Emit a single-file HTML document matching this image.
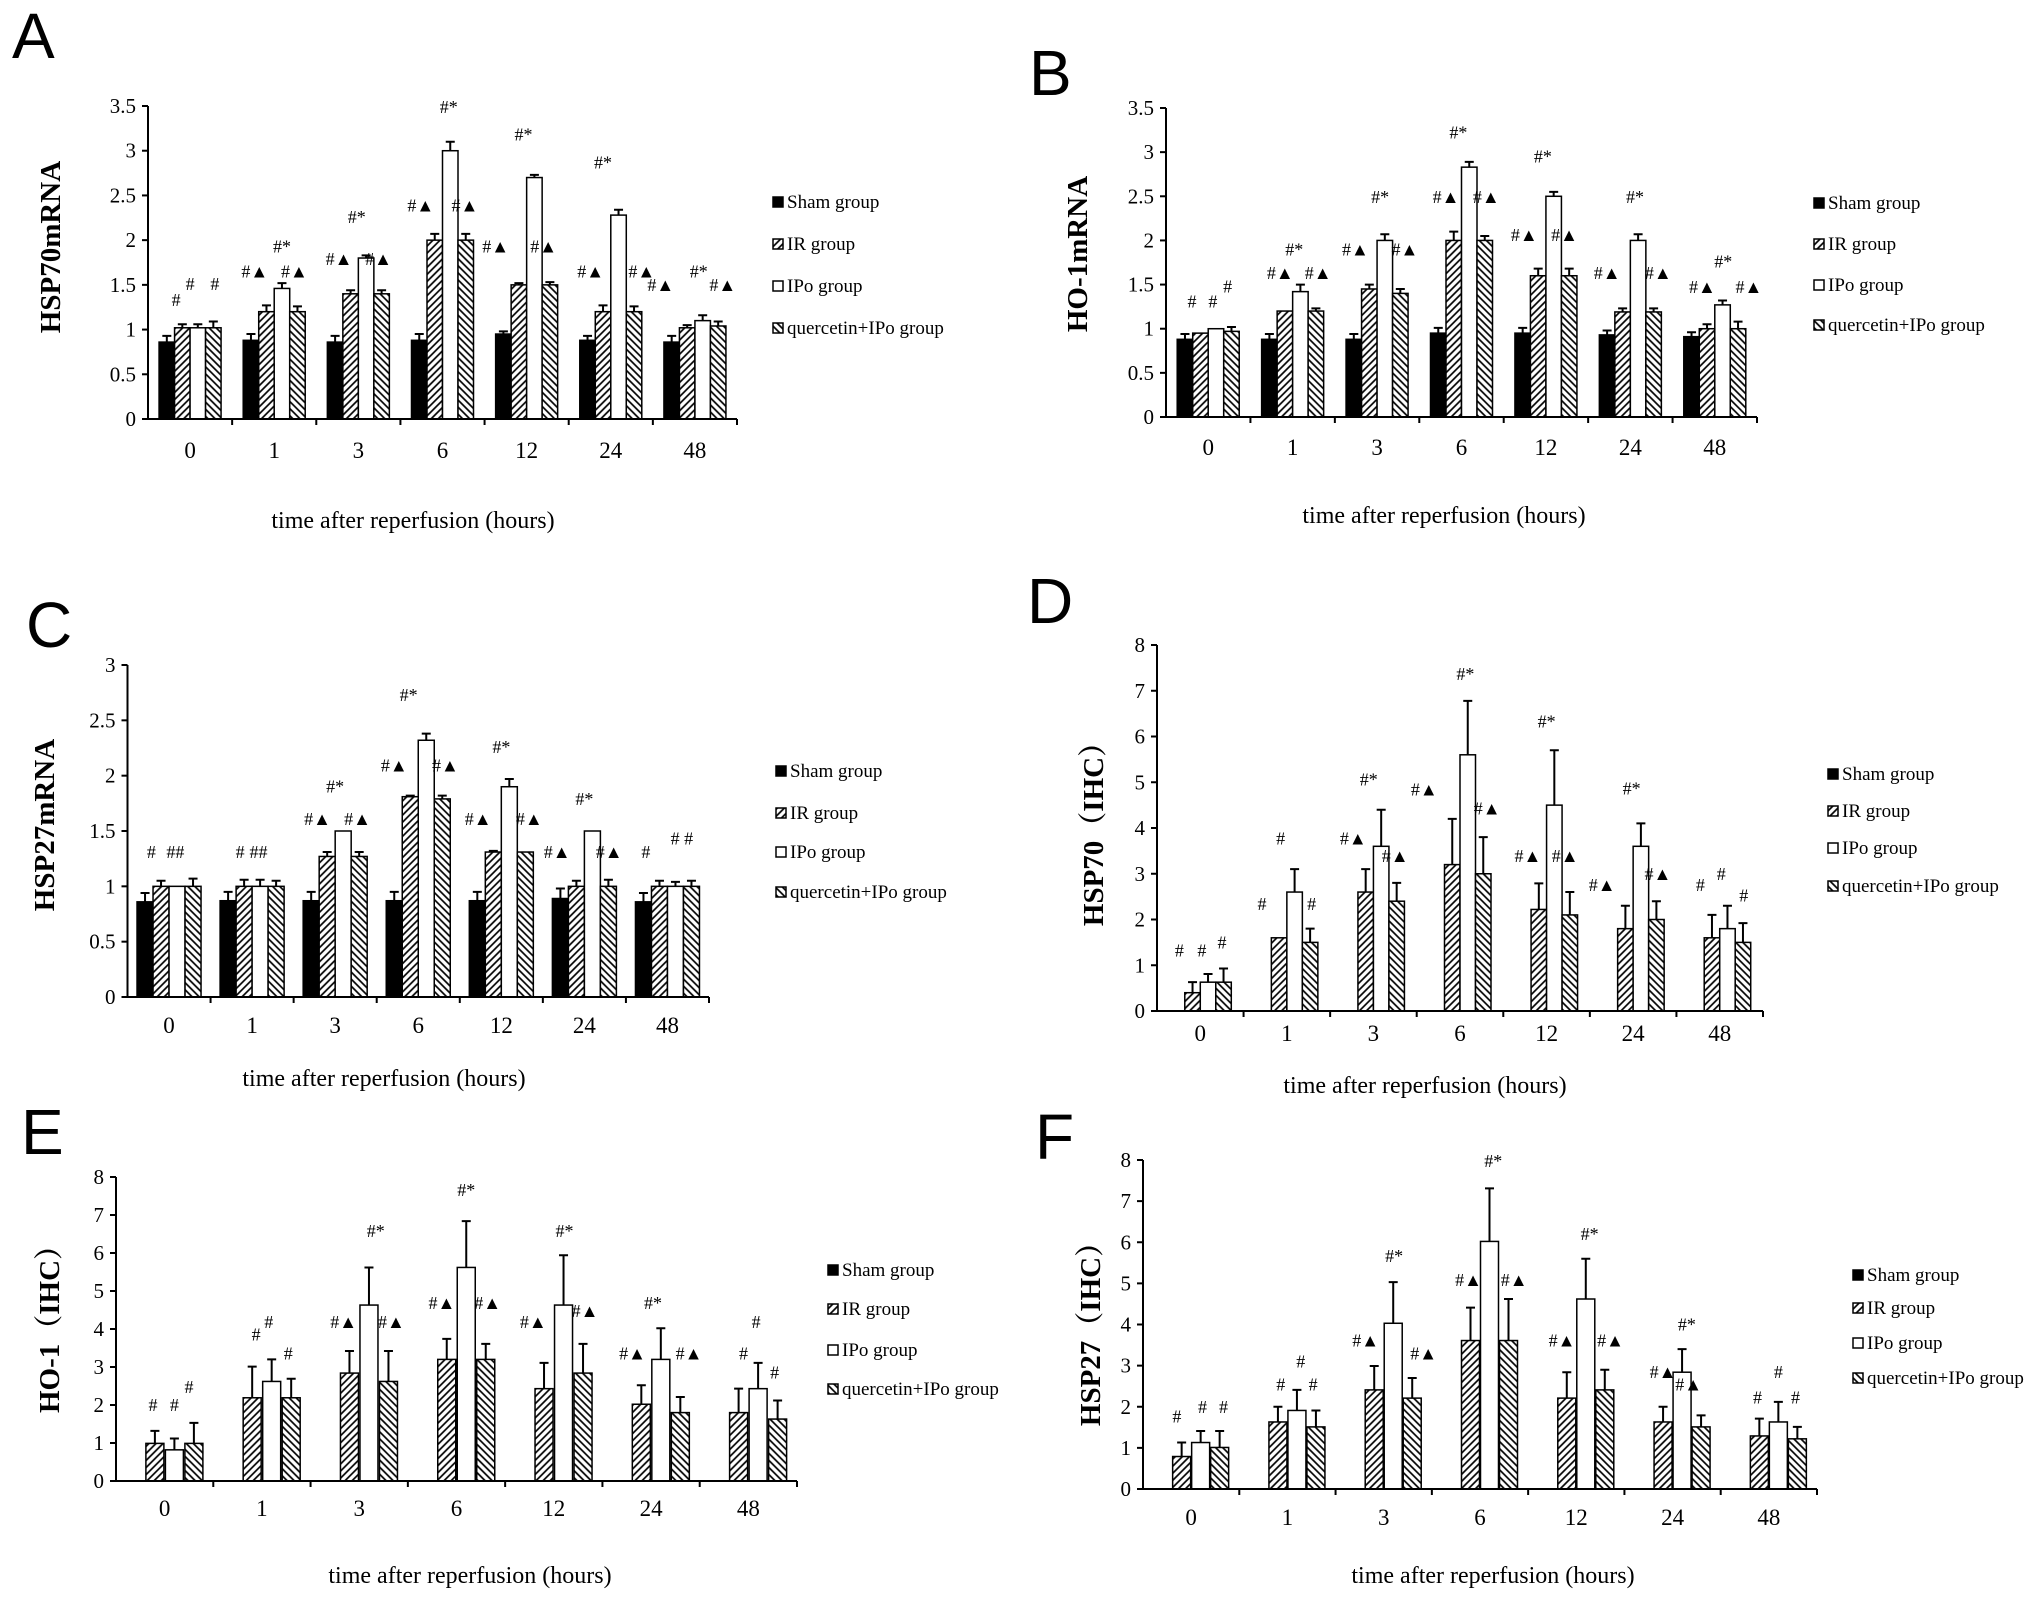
<!DOCTYPE html>
<html><head><meta charset="utf-8"><title>HSP expression after reperfusion</title>
<style>
html,body{margin:0;padding:0;background:#fff;}
svg{display:block;}
text{font-family:"Liberation Serif","Noto Serif CJK SC",serif;fill:#000;}
.letter{font-family:"Liberation Sans",sans-serif;font-size:64px;}
.tick{font-size:21px;}
.cat{font-size:23px;}
.ttl{font-size:24px;}
.yl{font-size:29px;font-weight:bold;font-family:"Liberation Serif","Noto Serif CJK SC",serif;}
.leg{font-size:19px;}
.ann{font-size:18px;font-family:"Liberation Serif","DejaVu Sans",serif;}
</style></head>
<body>
<svg id="fig" width="2031" height="1612" viewBox="0 0 2031 1612" xmlns="http://www.w3.org/2000/svg">
<defs>
<pattern id="pIR" patternUnits="userSpaceOnUse" width="5" height="5" patternTransform="rotate(45)"><rect width="5" height="5" fill="#fff"/><line x1="1" y1="0" x2="1" y2="5" stroke="#000" stroke-width="1.7"/></pattern>
<pattern id="pQ" patternUnits="userSpaceOnUse" width="5" height="5" patternTransform="rotate(-45)"><rect width="5" height="5" fill="#fff"/><line x1="1" y1="0" x2="1" y2="5" stroke="#000" stroke-width="1.7"/></pattern>
</defs>
</svg>
<script>
const categories=['0','1','3','6','12','24','48'];
const legendLabels=['Sham group','IR group','IPo group','quercetin+IPo group'];
const ticksMRNA35=['0','0.5','1','1.5','2','2.5','3','3.5'];
const ticksMRNA3=['0','0.5','1','1.5','2','2.5','3'];
const ticksIHC=['0','1','2','3','4','5','6','7','8'];

// Panel A
const shamA=[0.86,0.88,0.86,0.88,0.95,0.88,0.86];
const shamErrA=[0.07,0.07,0.07,0.07,0.03,0.05,0.07];
const irA=[1.02,1.2,1.4,2.0,1.5,1.2,1.02];
const irErrA=[0.04,0.07,0.04,0.07,0.02,0.07,0.03];
const ipoA=[1.02,1.46,1.8,3.0,2.7,2.28,1.1];
const ipoErrA=[0.04,0.06,0.03,0.1,0.03,0.06,0.06];
const qA=[1.02,1.2,1.4,2.0,1.5,1.2,1.04];
const qErrA=[0.07,0.06,0.04,0.07,0.03,0.06,0.05];
const annA=[[0,-0.9,1.33,'#'],[0,0,1.51,'#'],[0,1.6,1.51,'#'],
[1,-1.25,1.65,'#▲'],[1,0.5,1.93,'#*'],[1,1.3,1.65,'#▲'],
[2,-1.25,1.79,'#▲'],[2,-0.1,2.26,'#*'],[2,1.3,1.79,'#▲'],
[3,-1.4,2.39,'#▲'],[3,0.4,3.49,'#*'],[3,1.45,2.39,'#▲'],
[4,-2,1.93,'#▲'],[4,-0.2,3.18,'#*'],[4,1.1,1.93,'#▲'],
[5,-1.3,1.65,'#▲'],[5,-0.5,2.87,'#*'],[5,2.0,1.65,'#▲'],
[6,-2.2,1.5,'#▲'],[6,0.25,1.65,'#*'],[6,1.8,1.5,'#▲']];

// Panel B
const shamB=[0.88,0.88,0.88,0.95,0.95,0.93,0.91];
const shamErrB=[0.06,0.06,0.06,0.06,0.06,0.05,0.05];
const irB=[0.95,1.2,1.45,2.0,1.6,1.19,1.0];
const irErrB=[0.0,0.0,0.05,0.1,0.08,0.04,0.05];
const ipoB=[1.0,1.42,2.0,2.83,2.5,2.0,1.27];
const ipoErrB=[0.0,0.08,0.07,0.06,0.05,0.07,0.05];
const qB=[0.97,1.2,1.4,2.0,1.6,1.19,1.0];
const qErrB=[0.05,0.03,0.05,0.05,0.08,0.04,0.08];
const annB=[[0,-1.05,1.31,'#'],[0,0.3,1.31,'#'],[0,1.25,1.48,'#'],
[1,-0.8,1.63,'#▲'],[1,0.1,1.9,'#*'],[1,1.65,1.63,'#▲'],
[2,-1.4,1.9,'#▲'],[2,0.2,2.49,'#*'],[2,1.8,1.9,'#▲'],
[3,-1,2.49,'#▲'],[3,-0.2,3.22,'#*'],[3,1.6,2.49,'#▲'],
[4,-1.4,2.06,'#▲'],[4,-0.2,2.95,'#*'],[4,1.2,2.06,'#▲'],
[5,-1.5,1.63,'#▲'],[5,0.3,2.49,'#*'],[5,1.8,1.63,'#▲'],
[6,-0.8,1.47,'#▲'],[6,0.55,1.76,'#*'],[6,2.2,1.47,'#▲']];

// Panel C
const shamC=[0.86,0.87,0.87,0.87,0.87,0.89,0.86];
const shamErrC=[0.08,0.08,0.08,0.08,0.08,0.09,0.08];
const irC=[1.0,1.0,1.27,1.81,1.31,1.0,1.0];
const irErrC=[0.05,0.06,0.04,0.01,0.01,0.05,0.05];
const ipoC=[1.0,1.0,1.5,2.32,1.9,1.5,1.0];
const ipoErrC=[0.0,0.06,0.0,0.06,0.07,0.0,0.04];
const qC=[1.0,1.0,1.27,1.79,1.31,1.0,1.0];
const qErrC=[0.07,0.05,0.04,0.03,0.0,0.06,0.05];
const annC=[[0,-1.1,1.31,'#'],[0,0.4,1.31,'##'],
[1,-0.75,1.31,'#'],[1,0.4,1.31,'##'],
[2,-1.1,1.61,'#▲'],[2,0,1.9,'#*'],[2,1.4,1.61,'#▲'],
[3,-1.5,2.09,'#▲'],[3,-0.6,2.73,'#*'],[3,1.7,2.09,'#▲'],
[4,-1.45,1.61,'#▲'],[4,0,2.26,'#*'],[4,1.75,1.61,'#▲'],
[5,-1.7,1.31,'#▲'],[5,0,1.79,'#*'],[5,1.55,1.31,'#▲'],
[6,-1.35,1.31,'#'],[6,0.9,1.43,'# #']];

// Panel D
const shamD=[0,0,0,0,0,0,0];
const shamErrD=[0,0,0,0,0,0,0];
const irD=[0.4,1.6,2.6,3.2,2.22,1.8,1.6];
const irErrD=[0.23,0,0.5,1.0,0.57,0.5,0.5];
const ipoD=[0.63,2.6,3.6,5.6,4.5,3.6,1.8];
const ipoErrD=[0.18,0.5,0.8,1.18,1.2,0.5,0.5];
const qD=[0.63,1.5,2.4,3.0,2.1,2.0,1.5];
const qErrD=[0.3,0.3,0.4,0.8,0.5,0.4,0.42];
const annD=[[0,-1.35,1.32,'#'],[0,0.1,1.32,'#'],[0,1.4,1.5,'#'],
[1,-1.6,2.34,'#'],[1,-0.4,3.77,'#'],[1,1.6,2.34,'#'],
[2,-1.3,3.77,'#▲'],[2,-0.3,5.06,'#*'],[2,1.4,3.39,'#▲'],
[3,-2.3,4.84,'#▲'],[3,0.35,7.37,'#*'],[3,1.75,4.43,'#▲'],
[4,-1.2,3.39,'#▲'],[4,0,6.33,'#*'],[4,1.2,3.39,'#▲'],
[5,-2,2.75,'#▲'],[5,-0.1,4.86,'#*'],[5,1.6,3.0,'#▲'],
[6,-1.25,2.75,'#'],[6,0.1,3.0,'#'],[6,1.55,2.52,'#']];

// Panel E
const shamE=[0,0,0,0,0,0,0];
const shamErrE=[0,0,0,0,0,0,0];
const irE=[0.99,2.19,2.84,3.2,2.43,2.02,1.8];
const irErrE=[0.33,0.82,0.58,0.54,0.68,0.5,0.63];
const ipoE=[0.82,2.62,4.63,5.62,4.63,3.2,2.43];
const ipoErrE=[0.3,0.58,0.99,1.22,1.31,0.82,0.68];
const qE=[0.99,2.19,2.62,3.2,2.84,1.8,1.63];
const qErrE=[0.54,0.5,0.8,0.41,0.77,0.41,0.49];
const annE=[[0,-0.6,2.0,'#'],[0,0.5,2.0,'#'],[0,1.25,2.48,'#'],
[1,-0.3,3.85,'#'],[1,0.35,4.19,'#'],[1,1.35,3.35,'#'],
[2,-0.8,4.19,'#▲'],[2,0.85,6.58,'#*'],[2,1.65,4.19,'#▲'],
[3,-0.75,4.69,'#▲'],[3,0.5,7.66,'#*'],[3,1.6,4.69,'#▲'],
[4,-1.05,4.19,'#▲'],[4,0.55,6.58,'#*'],[4,1.6,4.47,'#▲'],
[5,-0.95,3.35,'#▲'],[5,0.1,4.69,'#*'],[5,1.95,3.35,'#▲'],
[6,-0.25,3.35,'#'],[6,0.4,4.19,'#'],[6,1.35,2.86,'#']];

// Panel F
const shamF=[0,0,0,0,0,0,0];
const shamErrF=[0,0,0,0,0,0,0];
const irF=[0.79,1.63,2.41,3.61,2.21,1.63,1.29];
const irErrF=[0.34,0.37,0.58,0.8,0.63,0.37,0.42];
const ipoF=[1.13,1.91,4.03,6.02,4.62,2.84,1.63];
const ipoErrF=[0.28,0.5,1.0,1.29,0.98,0.56,0.49];
const qF=[1.01,1.51,2.21,3.61,2.41,1.51,1.22];
const qErrF=[0.4,0.4,0.49,1.01,0.49,0.28,0.29];
const annF=[[0,-0.75,1.76,'#'],[0,0.6,2.0,'#'],[0,1.7,2.0,'#'],
[1,-0.35,2.54,'#'],[1,0.7,3.1,'#'],[1,1.35,2.54,'#'],
[2,-0.95,3.61,'#▲'],[2,0.55,5.66,'#*'],[2,2.1,3.3,'#▲'],
[3,-0.6,5.08,'#▲'],[3,0.7,7.98,'#*'],[3,1.8,5.08,'#▲'],
[4,-0.75,3.61,'#▲'],[4,0.7,6.2,'#*'],[4,1.8,3.61,'#▲'],
[5,-0.5,2.84,'#▲'],[5,0.75,4.0,'#*'],[5,0.85,2.54,'#▲'],
[6,-0.6,2.22,'#'],[6,0.5,2.84,'#'],[6,1.4,2.22,'#']];

const NS='http://www.w3.org/2000/svg';
const svg=document.getElementById('fig');
function mk(tag,attrs,parent,txt){const e=document.createElementNS(NS,tag);for(const k in attrs)e.setAttribute(k,attrs[k]);if(txt!==undefined)e.textContent=txt;parent.appendChild(e);return e;}

const panels=[
{id:'a',letter:'A',lx:12,ly:58,x0:148,x1:737,y0:419,yt:106,ymax:3.5,ticks:ticksMRNA35,bw:15.5,slot:15.5,series:[shamA,irA,ipoA,qA],errs:[shamErrA,irErrA,ipoErrA,qErrA],ann:annA,ylabel:'HSP70mRNA',ylx:50,yly:247,title:'time after reperfusion (hours)',tx:413,ty:520,caty:450,legx:773,legy:[202,244,286,328]},
{id:'b',letter:'B',lx:1029,ly:95,x0:1166,x1:1757,y0:417,yt:108,ymax:3.5,ticks:ticksMRNA35,bw:15.5,slot:15.5,series:[shamB,irB,ipoB,qB],errs:[shamErrB,irErrB,ipoErrB,qErrB],ann:annB,ylabel:'HO-1mRNA',ylx:1077,yly:254,title:'time  after reperfusion  (hours)',tx:1444,ty:515,caty:447,legx:1814,legy:[203,244,285,325]},
{id:'c',letter:'C',lx:26,ly:647,x0:127.5,x1:709,y0:997,yt:665,ymax:3,ticks:ticksMRNA3,bw:16,slot:16,series:[shamC,irC,ipoC,qC],errs:[shamErrC,irErrC,ipoErrC,qErrC],ann:annC,ylabel:'HSP27mRNA',ylx:44,yly:825,title:'time  after reperfusion (hours)',tx:384,ty:1078,caty:1025,legx:776,legy:[771,813,852,892]},
{id:'d',letter:'D',lx:1027,ly:623,x0:1157,x1:1763,y0:1011,yt:645,ymax:8,ticks:ticksIHC,bw:15.5,slot:15.5,series:[shamD,irD,ipoD,qD],errs:[shamErrD,irErrD,ipoErrD,qErrD],ann:annD,ylabel:'HSP70（IHC）',ylx:1093,yly:827,title:'time  after reperfusion (hours)',tx:1425,ty:1085,caty:1033,legx:1828,legy:[774,811,848,886]},
{id:'e',letter:'E',lx:21,ly:1154,x0:116,x1:797,y0:1481,yt:1177,ymax:8,ticks:ticksIHC,bw:18,slot:19.5,series:[shamE,irE,ipoE,qE],errs:[shamErrE,irErrE,ipoErrE,qErrE],ann:annE,ylabel:'HO-1（IHC）',ylx:49,yly:1322,title:'time  after reperfusion (hours)',tx:470,ty:1575,caty:1508,legx:828,legy:[1270,1309,1350,1389]},
{id:'f',letter:'F',lx:1035,ly:1159,x0:1143,x1:1817,y0:1489,yt:1160,ymax:8,ticks:ticksIHC,bw:18,slot:19,series:[shamF,irF,ipoF,qF],errs:[shamErrF,irErrF,ipoErrF,qErrF],ann:annF,ylabel:'HSP27（IHC）',ylx:1090,yly:1327,title:'time  after reperfusion (hours)',tx:1493,ty:1575,caty:1517,legx:1853,legy:[1275,1308,1343,1378]}
];
const fills=['#000','url(#pIR)','#fff','url(#pQ)'];
const seriesNames=['sham','ir','ipo','quercetin-ipo'];

panels.forEach(p=>{
  const g=mk('g',{},svg);
  
  
  const n=categories.length;
  const step=(p.x1-p.x0)/n;
  const xc=i=>p.x0+step*(i+0.5);
  const ys=v=>p.y0-(v/p.ymax)*(p.y0-p.yt);
  const L=mk('text',{x:p.lx,y:p.ly,class:'letter'},g,p.letter);
  
  
  p.series.forEach((vals,s)=>{
    vals.forEach((v,i)=>{
      if(v<=0)return;
      const bx=xc(i)+(s-2)*p.slot+(p.slot-p.bw)/2;
      const r=mk('rect',{x:bx,y:ys(v),width:p.bw,height:p.y0-ys(v),fill:fills[s],stroke:'#000','stroke-width':1.5},g);
      
      
      const e=p.errs[s][i];
      if(e>0){
        const cx=bx+p.bw/2;
        const el=mk('path',{d:`M${cx},${ys(v)}V${ys(v+e)}M${cx-4.5},${ys(v+e)}H${cx+4.5}`,stroke:'#000','stroke-width':2,fill:'none'},g);
        
        
      }
    });
  });
  const ax=mk('path',{d:`M${p.x0},${p.yt}V${p.y0}H${p.x1}`,stroke:'#000','stroke-width':2,fill:'none'},g);
  
  
  p.ticks.forEach((t,k)=>{
    const v=k*p.ymax/(p.ticks.length-1);
    mk('line',{x1:p.x0-6,x2:p.x0,y1:ys(v),y2:ys(v),stroke:'#000','stroke-width':2},g);
    const tl=mk('text',{x:p.x0-12,y:ys(v)+7,'text-anchor':'end',class:'tick'},g,t);
    
    
  });
  for(let i=1;i<=n;i++){mk('line',{x1:p.x0+step*i,x2:p.x0+step*i,y1:p.y0,y2:p.y0+6,stroke:'#000','stroke-width':2},g);}
  categories.forEach((c,i)=>{
    const cl=mk('text',{x:xc(i),y:p.caty+8,'text-anchor':'middle',class:'cat'},g,c);
    
    
  });
  p.ann.forEach(a=>{
    const at=mk('text',{x:xc(a[0])+a[1]*p.slot,y:ys(a[2])+6,'text-anchor':'middle',class:'ann'},g,a[3]);
    
    
  });
  const yl=mk('text',{x:0,y:0,'text-anchor':'middle',class:'yl',transform:`translate(${p.ylx+10},${p.yly}) rotate(-90)`},g,p.ylabel);
  
  
  const tt=mk('text',{x:p.tx,y:p.ty+8,'text-anchor':'middle',class:'ttl'},g,p.title);
  
  
  legendLabels.forEach((lab,s)=>{
    const lg=mk('g',{},g);
    
    
    mk('rect',{x:p.legx,y:p.legy[s]-5,width:10,height:10,fill:fills[s],stroke:'#000','stroke-width':1.5},lg);
    mk('text',{x:p.legx+14,y:p.legy[s]+6,class:'leg'},lg,lab);
  });
});
</script>
</body></html>
